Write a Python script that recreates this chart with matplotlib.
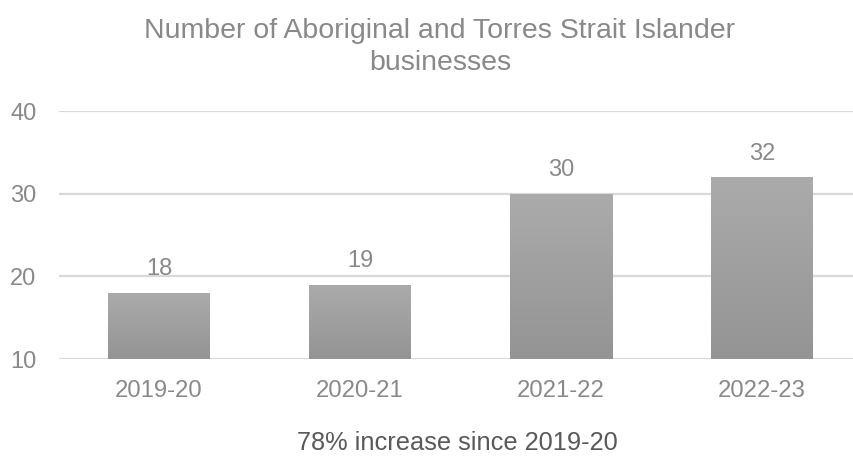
import numpy as np
import matplotlib
matplotlib.use("Agg")
import matplotlib.pyplot as plt
from matplotlib.colors import LinearSegmentedColormap

categories = ["2019-20", "2020-21", "2021-22", "2022-23"]
values = [18, 19, 30, 32]
title = "Number of Aboriginal and Torres Strait Islander\nbusinesses"
footnote = "78% increase since 2019-20"
yticks = [10, 20, 30, 40]

body_font = "Liberation Sans"

W, H = 854, 463
fig = plt.figure(figsize=(W / 100, H / 100), dpi=100)
left_px, right_px, bottom_px, top_px = 58.5, 854, 359, 111
ax = fig.add_axes([left_px / W, (H - bottom_px) / H, (right_px - left_px) / W, (bottom_px - top_px) / H])

x = np.arange(len(categories))
step_px = 201

grey_text = "#898989"
ax.yaxis.grid(True, color="#d9d9d9", linewidth=1.6)
ax.set_axisbelow(True)
for s in ax.spines.values():
    s.set_visible(False)
ax.tick_params(length=0)
ax.set_yticks(yticks)
ax.set_yticklabels([str(t) for t in yticks], fontsize=17, color=grey_text, family=body_font)
ax.tick_params(axis="y", pad=16)
ax.set_xticks(x)
ax.set_xticklabels(categories, fontsize=17.2, color=grey_text, family=body_font)
ax.tick_params(axis="x", pad=15)

width = 102 / step_px
bars = ax.bar(x, [v - 10 for v in values], bottom=10, width=width, color="#a0a0a0", zorder=2)
grad = np.linspace(0, 1, 256).reshape(-1, 1)
cmap = LinearSegmentedColormap.from_list("g", ["#949494", "#ababab"])
for b in bars:
    bx, by = b.get_x(), b.get_y()
    bw, bh = b.get_width(), b.get_height()
    im = ax.imshow(grad, cmap=cmap, origin="lower", aspect="auto",
                   extent=[bx, bx + bw, by, by + bh], zorder=3)
    im.set_clip_path(b)

for xi, v in zip(x, values):
    ax.annotate(str(v), (xi, v), xytext=(0, 9), textcoords="offset points",
                ha="center", va="bottom", fontsize=17, color=grey_text, family=body_font)
ax.set_xlim(-0.5, -0.5 + (right_px - left_px) / step_px)
ax.set_ylim(10, 40)

fig.text(440 / W, 1 - 47 / H, title, ha="center", va="center", fontsize=20.5,
         color=grey_text, family=body_font, linespacing=1.35)
fig.text(457 / W, 1 - 443 / H, footnote, ha="center", va="center", fontsize=18.3,
         color="#595959", family=body_font)

fig.savefig("out.png", dpi=100)
